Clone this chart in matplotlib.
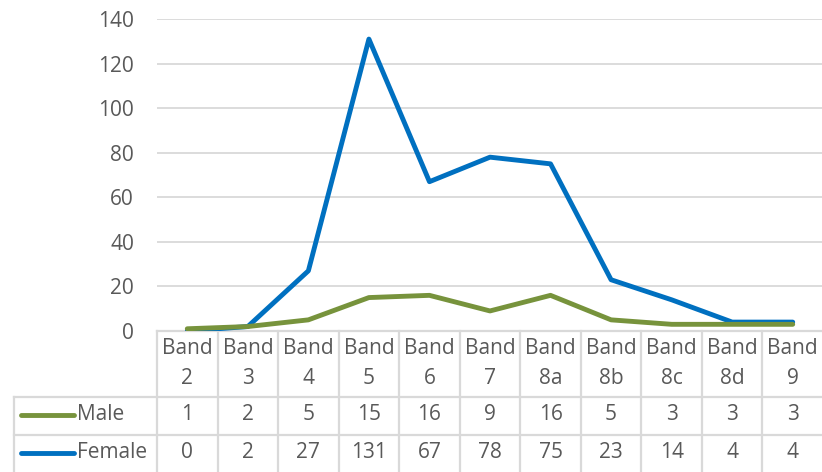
import matplotlib
matplotlib.use("Agg")
import matplotlib.pyplot as plt

bands = ["2", "3", "4", "5", "6", "7", "8a", "8b", "8c", "8d", "9"]
male = [1, 2, 5, 15, 16, 9, 16, 5, 3, 3, 3]
female = [0, 2, 27, 131, 67, 78, 75, 23, 14, 4, 4]
y_ticks = [0, 20, 40, 60, 80, 100, 120, 140]

MALE_COLOR = "#77933C"
FEMALE_COLOR = "#0070C0"
TEXT_COLOR = "#595959"
GRID_COLOR = "#D9D9D9"

plt.rcParams["font.family"] = ["Open Sans", "DejaVu Sans"]

W, H = 822, 472
fig = plt.figure(figsize=(W / 100, H / 100), dpi=100)

# pixel layout
left, right = 157, 823
top, base = 19, 331
row_head, row_male, row_female = 397, 435, 474
key_left = 14


def rect(x0, y0, x1, y1):
    return [x0 / W, 1 - y1 / H, (x1 - x0) / W, (y1 - y0) / H]


fs = 15

ax = fig.add_axes(rect(left, top, right, base))
x = list(range(len(bands)))
ax.plot(x, female, color=FEMALE_COLOR, lw=3.5, solid_joinstyle="round",
        solid_capstyle="round", zorder=3)
ax.plot(x, male, color=MALE_COLOR, lw=3.5, solid_joinstyle="round",
        solid_capstyle="round", zorder=3)
ax.set_xlim(-0.5, len(bands) - 0.5)
ax.set_ylim(0, 140)
ax.set_yticks(y_ticks)
ax.set_xticks([])
ax.tick_params(axis="y", length=0, pad=16.5, labelsize=fs, labelcolor=TEXT_COLOR)
ax.grid(axis="y", color=GRID_COLOR, lw=1.3)
ax.set_axisbelow(True)
for s in ax.spines.values():
    s.set_visible(False)
ax.patch.set_alpha(0)

# data table below the plot, drawn in pixel coordinates
tab = fig.add_axes([0, 0, 1, 1], zorder=-1)
tab.set_xlim(0, W)
tab.set_ylim(H, 0)
tab.axis("off")

col_w = (right - left) / len(bands)
edges = [left + i * col_w for i in range(len(bands) + 1)]
lc = dict(color=GRID_COLOR, lw=1.6)

tab.plot([left, right], [base, base], **lc)
tab.plot([key_left, right], [row_head, row_head], **lc)
tab.plot([key_left, right], [row_male, row_male], **lc)
tab.plot([key_left, key_left], [row_head, H], **lc)
for e in edges:
    tab.plot([e, e], [base, H], **lc)

for i, b in enumerate(bands):
    cx = edges[i] + col_w / 2
    tab.text(cx, 349, "Band", ha="center", va="center", fontsize=fs, color=TEXT_COLOR)
    tab.text(cx, 378, b, ha="center", va="center", fontsize=fs, color=TEXT_COLOR)
    tab.text(cx, 415, str(male[i]), ha="center", va="center", fontsize=fs, color=TEXT_COLOR)
    tab.text(cx, 453, str(female[i]), ha="center", va="center", fontsize=fs, color=TEXT_COLOR)

for yc, name, col in [(415, "Male", MALE_COLOR), (453, "Female", FEMALE_COLOR)]:
    tab.plot([21, 74], [yc, yc], color=col, lw=3.5, solid_capstyle="round")
    tab.text(77, yc, name, ha="left", va="center", fontsize=fs, color=TEXT_COLOR)

fig.savefig("out.png", dpi=100)
